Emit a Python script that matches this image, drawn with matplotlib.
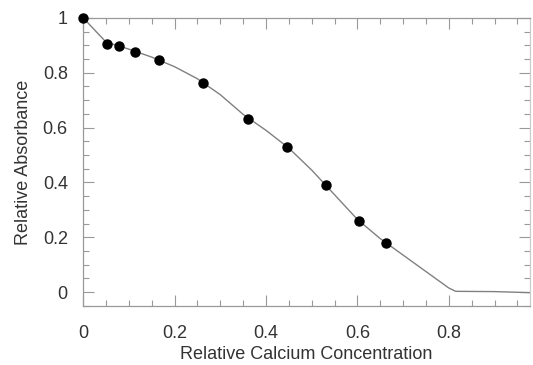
import matplotlib
matplotlib.use('Agg')
import matplotlib.pyplot as plt
from matplotlib.ticker import MultipleLocator, FormatStrFormatter

plt.rcParams['font.family'] = ['Liberation Sans', 'DejaVu Sans']

# measured points
conc = [0.0, 0.052, 0.078, 0.114, 0.165, 0.263, 0.36, 0.446, 0.531, 0.603, 0.662]
absorb = [1.0, 0.905, 0.898, 0.876, 0.847, 0.762, 0.63, 0.53, 0.39, 0.26, 0.18]

# fitted curve
fit_x = [0.0, 0.05, 0.1, 0.15, 0.2, 0.25, 0.3, 0.35, 0.4, 0.45, 0.5, 0.55,
         0.6, 0.65, 0.7, 0.75, 0.8, 0.815, 0.9, 0.98]
fit_y = [1.0, 0.912, 0.886, 0.857, 0.822, 0.778, 0.72, 0.648, 0.59, 0.525,
         0.445, 0.355, 0.265, 0.195, 0.135, 0.075, 0.015, 0.003, 0.002, -0.002]

fig = plt.figure(figsize=(5.33, 3.65), dpi=100)
ax = fig.add_axes([0.156, 0.162, 0.838, 0.789])

ax.plot(fit_x, fit_y, color='#808080', lw=1.0, zorder=2)
ax.plot(conc, absorb, 'o', color='black', ms=6.5, zorder=3, clip_on=False)

ax.set_xlim(0, 0.977)
ax.set_ylim(-0.05, 1.0)
ax.xaxis.set_major_locator(MultipleLocator(0.2))
ax.xaxis.set_minor_locator(MultipleLocator(0.05))
ax.yaxis.set_major_locator(MultipleLocator(0.2))
ax.yaxis.set_minor_locator(MultipleLocator(0.05))
ax.xaxis.set_major_formatter(FormatStrFormatter('%g'))
ax.yaxis.set_major_formatter(FormatStrFormatter('%g'))

ax.tick_params(which='both', direction='in', top=True, right=True,
               color='#999999', labelcolor='#333333', labelsize=13)
ax.tick_params(which='major', length=8, width=0.8)
ax.tick_params(which='minor', length=4, width=0.8)
ax.tick_params(axis='x', which='major', pad=14)
ax.tick_params(axis='y', which='major', pad=11)
for s in ax.spines.values():
    s.set_color('#999999')
    s.set_linewidth(0.9)
ax.spines['right'].set_color('#cccccc')

ax.set_xlabel('Relative Calcium Concentration', fontsize=13, color='#333333', labelpad=3)
ax.set_ylabel('Relative Absorbance', fontsize=13, color='#333333', labelpad=8)

fig.savefig('out.png', dpi=100)
